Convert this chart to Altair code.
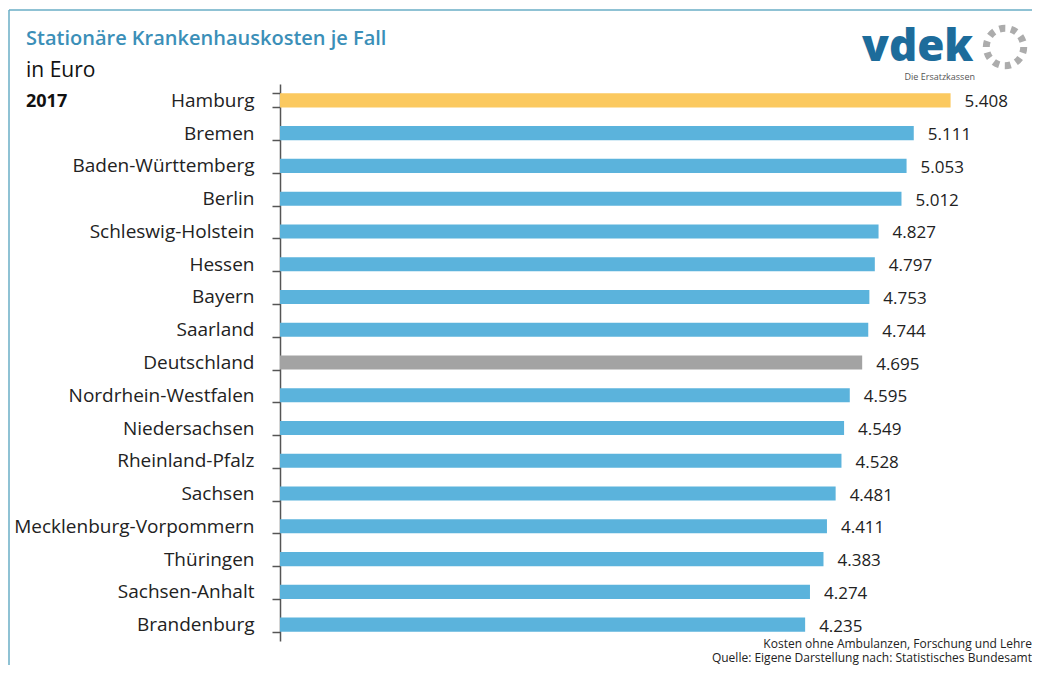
import altair as alt
import pandas as pd

regions = ["Hamburg", "Bremen", "Baden-Württemberg", "Berlin", "Schleswig-Holstein",
           "Hessen", "Bayern", "Saarland", "Deutschland", "Nordrhein-Westfalen",
           "Niedersachsen", "Rheinland-Pfalz", "Sachsen", "Mecklenburg-Vorpommern",
           "Thüringen", "Sachsen-Anhalt", "Brandenburg"]
costs = [5408, 5111, 5053, 5012, 4827, 4797, 4753, 4744, 4695, 4595,
         4549, 4528, 4481, 4411, 4383, 4274, 4235]
notes = ["Kosten ohne Ambulanzen, Forschung und Lehre",
         "Quelle: Eigene Darstellung nach: Statistisches Bundesamt"]

df = pd.DataFrame({"region": regions, "cost": costs})
df["label"] = [f"{v:,}".replace(",", ".") for v in costs]

FONT = "Open Sans"
one = alt.Data(values=[{"a": 1}])

y_enc = alt.Y("region:N", sort=regions, title=None,
              scale=alt.Scale(paddingInner=0.57),
              axis=alt.Axis(labelFontSize=19, labelColor="#222222", labelFont=FONT,
                            labelPadding=18, tickSize=8, tickColor="#555555",
                            tickWidth=1.5, domainColor="#555555", domainWidth=1.5,
                            tickBand="extent", labelLimit=400, grid=False))
x_enc = alt.X("cost:Q", scale=alt.Scale(domain=[0, 6000], nice=False), axis=None)

bars = alt.Chart(df).transform_calculate(
    kind="datum.region == 'Hamburg' ? 'top' : (datum.region == 'Deutschland' ? 'de' : 'land')"
).mark_bar().encode(
    y=y_enc, x=x_enc,
    color=alt.Color("kind:N", legend=None,
                    scale=alt.Scale(domain=["top", "de", "land"],
                                    range=["#fbc95f", "#a3a3a3", "#5bb3dc"])),
)

values = alt.Chart(df).mark_text(align="left", baseline="middle", dx=14, dy=2,
                                 fontSize=17, font=FONT, color="#222222").encode(
    y=alt.Y("region:N", sort=regions), x="cost:Q", text="label:N")


def txt(text, x, y, size, color="#111111", weight="normal", align="left", font=FONT,
        line_height=None):
    kw = {}
    if line_height is not None:
        kw["lineHeight"] = line_height
    return alt.Chart(one).mark_text(align=align, baseline="alphabetic", fontSize=size,
                                    fontWeight=weight, color=color, font=font, **kw).encode(
        x=alt.value(x), y=alt.value(y), text=alt.value(text))


title = txt("Stationäre Krankenhauskosten je Fall", -254, -39, 20, "#3b8fb8", 600)
unit = txt("in Euro", -254, -7, 21, "#111111")
year = txt("2017", -254, 23, 18, "#111111", "bold")
logo = txt("vdek", 582, -23, 44, "#1d6c9b", 800)
logo_sub = txt("Die Ersatzkassen", 695, -4, 9, "#555555", align="right")
ring = alt.Chart(one).mark_point(shape="circle", size=1400, filled=False, strokeWidth=7,
                                 strokeDash=[6, 5.7], color="#8a8a8a").encode(
    x=alt.value(725), y=alt.value(-37))
footnote = txt(notes, 752, 564, 12, "#222222", align="right", line_height=14)

frame_top = alt.Chart(one).mark_rule(color="#6aaec6", strokeWidth=1.5).encode(
    x=alt.value(-271), x2=alt.value(760), y=alt.value(-74))
frame_left = alt.Chart(one).mark_rule(color="#6aaec6", strokeWidth=1.5).encode(
    x=alt.value(-271), y=alt.value(-74), y2=alt.value(600))

chart = alt.layer(bars, values, title, unit, year, logo, logo_sub, ring, footnote,
                  frame_top, frame_left).properties(
    width=744, height=557,
    padding={"left": 272, "top": 76, "right": 8, "bottom": 24},
    autosize=alt.AutoSizeParams(type="none"),
).configure_view(stroke=None)

chart.save("out.html", embed_options={"renderer": "svg", "actions": False})
